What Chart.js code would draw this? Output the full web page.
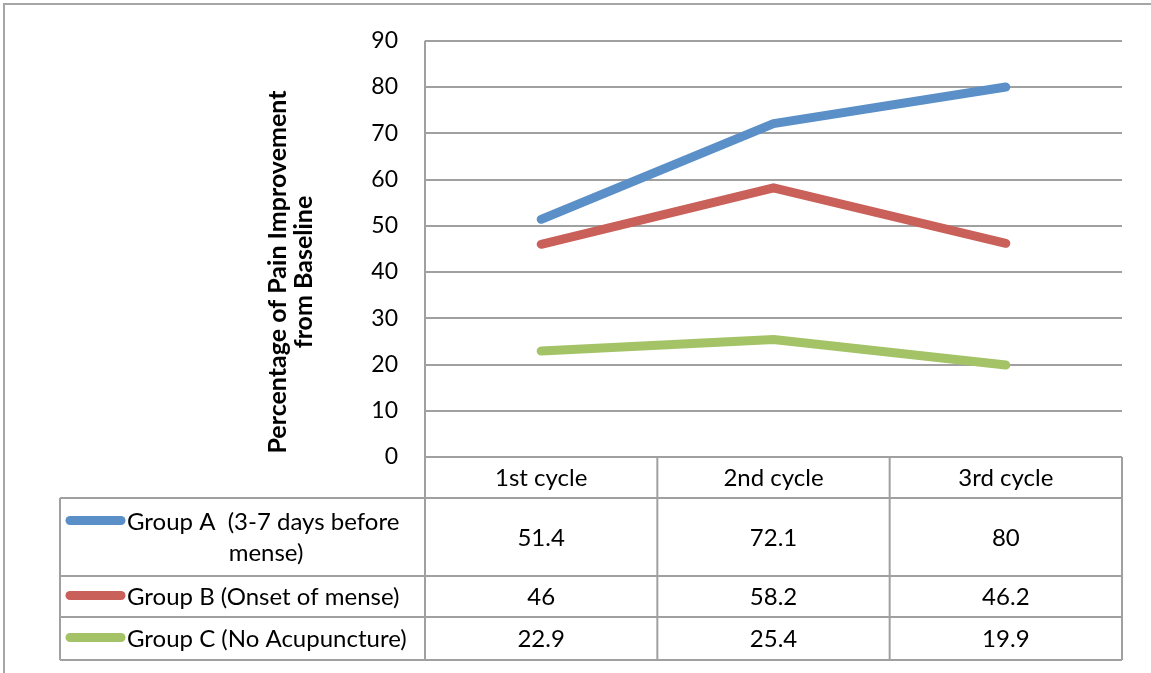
<!DOCTYPE html>
<html>
<head>
<meta charset="utf-8">
<script src="https://cdn.jsdelivr.net/npm/chart.js@4/dist/chart.umd.min.js"></script>
<style>
  html, body { margin: 0; padding: 0; background: #fff; }
  canvas { display: block; }
</style>
</head>
<body>
<canvas id="painChart" width="1151" height="673"></canvas>
<script>
const cycles = ["1st cycle", "2nd cycle", "3rd cycle"];
const groupA = [51.4, 72.1, 80];
const groupB = [46, 58.2, 46.2];
const groupC = [22.9, 25.4, 19.9];
const groupLabels = [
  ["Group A  (3-7 days before", "mense)"],
  ["Group B (Onset of mense)"],
  ["Group C (No Acupuncture)"],
];
const yTitle = ["Percentage of Pain Improvement", "from Baseline"];

const FONT = "Lato, 'Open Sans', sans-serif";
const GRID = "#a0a0a0";

// frame + data table under the plot, aligned on the x scale
const tablePlugin = {
  id: "dataTable",
  beforeDraw(chart) {
    const ctx = chart.ctx;
    ctx.save();
    ctx.strokeStyle = "#a6a6a6";
    ctx.lineWidth = 2;
    ctx.beginPath();
    ctx.moveTo(4, chart.height);
    ctx.lineTo(4, 4);
    ctx.lineTo(chart.width, 4);
    ctx.stroke();
    ctx.restore();
  },
  afterDraw(chart) {
    const ctx = chart.ctx;
    const area = chart.chartArea;
    const xs = chart.scales.x;
    const rows = [area.bottom, 498, 576, 617, 660];
    const legLeft = 60;
    const colW = (area.right - area.left) / cycles.length;

    ctx.save();
    ctx.strokeStyle = GRID;
    ctx.lineWidth = 2;
    ctx.beginPath();
    // horizontal lines
    ctx.moveTo(area.left, rows[0]);
    ctx.lineTo(area.right, rows[0]);
    for (let r = 1; r < rows.length; r++) {
      ctx.moveTo(legLeft, rows[r]);
      ctx.lineTo(area.right, rows[r]);
    }
    // vertical lines
    ctx.moveTo(legLeft, rows[1]);
    ctx.lineTo(legLeft, rows[4]);
    ctx.moveTo(area.left, area.top);
    ctx.lineTo(area.left, rows[4]);
    for (let c = 1; c <= cycles.length; c++) {
      const x = area.left + colW * c;
      ctx.moveTo(x, rows[0]);
      ctx.lineTo(x, rows[4]);
    }
    ctx.stroke();

    ctx.fillStyle = "#000";
    ctx.font = "24px " + FONT;
    ctx.textAlign = "center";
    ctx.textBaseline = "middle";
    cycles.forEach((c, i) => {
      ctx.fillText(c, xs.getPixelForValue(i), (rows[0] + rows[1]) / 2 + 1);
    });

    chart.data.datasets.forEach((ds, d) => {
      const top = rows[d + 1];
      const bottom = rows[d + 2];
      const mid = (top + bottom) / 2;
      ds.data.forEach((v, i) => {
        ctx.fillText(String(v), xs.getPixelForValue(i), mid + 1);
      });

      const lines = groupLabels[d];
      const lh = 31;
      const firstY = mid - (lh * (lines.length - 1)) / 2 + 1;
      // legend sample line
      ctx.strokeStyle = ds.borderColor;
      ctx.lineWidth = 9;
      ctx.lineCap = "round";
      ctx.beginPath();
      ctx.moveTo(70, firstY - 2);
      ctx.lineTo(121, firstY - 2);
      ctx.stroke();

      ctx.textAlign = "left";
      ctx.fillText(lines[0], 127, firstY);
      ctx.textAlign = "center";
      for (let k = 1; k < lines.length; k++) {
        ctx.fillText(lines[k], 266, firstY + lh * k);
      }
    });

    // y axis title
    ctx.font = "bold 25px " + FONT;
    ctx.translate(291, 272);
    ctx.rotate(-Math.PI / 2);
    ctx.fillText(yTitle[0], 0, -13);
    ctx.fillText(yTitle[1], 0, 13);
    ctx.restore();
  },
};

function makeSet(label, data, color) {
  return {
    label: label,
    data: data,
    borderColor: color,
    backgroundColor: color,
    borderWidth: 9,
    borderCapStyle: "round",
    borderJoinStyle: "round",
    pointRadius: 0,
    tension: 0,
    fill: false,
  };
}

new Chart(document.getElementById("painChart"), {
  type: "line",
  data: {
    labels: cycles,
    datasets: [
      makeSet(groupLabels[0].join(" "), groupA, "#5a8fc8"),
      makeSet(groupLabels[1].join(" "), groupB, "#c9605a"),
      makeSet(groupLabels[2].join(" "), groupC, "#a4c366"),
    ],
  },
  options: {
    responsive: false,
    animation: false,
    layout: { padding: { top: 38, right: 29, left: 0, bottom: 0 } },
    plugins: {
      legend: { display: false },
      tooltip: { enabled: false },
    },
    scales: {
      x: {
        offset: true,
        grid: { display: false },
        border: { display: false },
        ticks: { display: false },
        afterFit: function (scale) {
          scale.height = 216;
        },
      },
      y: {
        min: 0,
        max: 90,
        ticks: {
          stepSize: 10,
          padding: 27,
          color: "#000",
          font: { family: FONT, size: 23 },
        },
        grid: { color: GRID, lineWidth: 2, drawTicks: false },
        border: { display: false },
        afterFit: function (scale) {
          scale.width = 425;
        },
      },
    },
  },
  plugins: [tablePlugin],
});
</script>
</body>
</html>
